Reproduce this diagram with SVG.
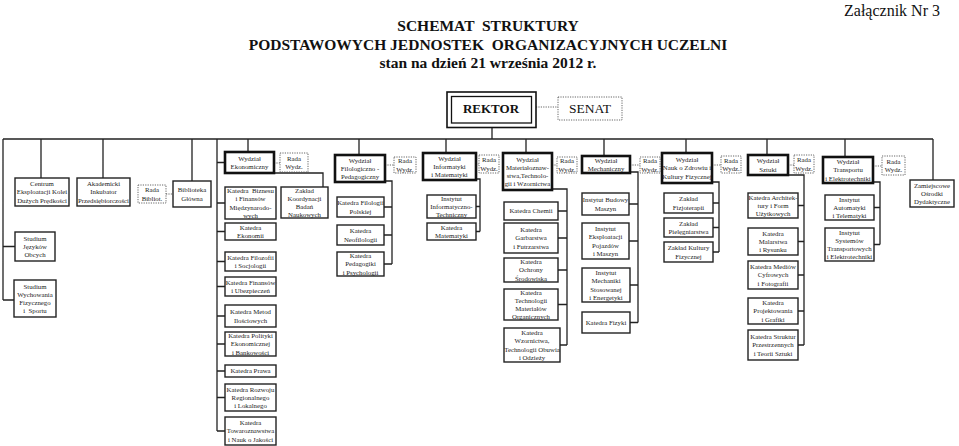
<svg xmlns="http://www.w3.org/2000/svg" width="959" height="446" viewBox="0 0 959 446">
<style>
.b{fill:#fff;stroke:#222;stroke-width:1.4}
.w{fill:#fff;stroke:#111;stroke-width:2.6}
.r{fill:#fff;stroke:#555;stroke-width:0.9;stroke-dasharray:1.2 1.2}
.t{font-family:"Liberation Serif","Times New Roman",serif;font-size:6.8px;fill:#222;text-anchor:middle}
.c{stroke:#222;stroke-width:1.3;fill:none}
.d{stroke:#555;stroke-width:0.9;stroke-dasharray:1.2 1.2;fill:none}
.h{font-family:"Liberation Serif","Times New Roman",serif;font-weight:bold;font-size:15.5px;fill:#111;text-anchor:middle}
</style>
<rect width="959" height="446" fill="#fff"/>
<g id="title">
<text class="h" x="488" y="31" xml:space="preserve">SCHEMAT  STRUKTURY</text>
<text class="h" x="488" y="50" xml:space="preserve">PODSTAWOWYCH JEDNOSTEK  ORGANIZACYJNYCH UCZELNI</text>
<text class="h" x="488" y="68">stan na dzień 21 września 2012 r.</text>
<text x="940" y="16" font-family="Liberation Serif, serif" font-size="16" fill="#111" text-anchor="end">Załącznik Nr 3</text>
</g>
<g id="connectors">
<path class="c" d="M3,139H933M492,127V139M3,139V300M3,246.5H15M3,300H14M41,139V178M103,139V178M192,139V181M217,139V431M217,162.5H225M217,203H225M217,231.5H225M217,261.5H225M217,286.5H225M217,316H225M217,344H225M217,371H225M217,397.5H225M217,431H225M248,139V152M274,173H323V187M359,139V155M385,181H392V264M384,207H392M384,235H392M384,264H392M446,139V153M476,179H480V231.5M476,206.5H480M476,231.5H480M526,139V153M552,189H567V345M558,211H567M558,238H567M558,270H567M558,304.5H567M560,345H567M604,139V156M630,172H638V322.5M629,204H638M629,241H638M630,285H638M630,322.5H638M686,139V153M712,182H719V252M713,203H719M713,227.5H719M713,252H719M767,139V155M788,175H804V345M798,205.5H804M798,241.5H804M798,275H804M798,311H804M798,345H804M845,139V157M873,182H880V244.5M874,207.5H880M874,244.5H880M933,139V180"/>
<path class="d" d="M536,107H558M166,194H173M274,163H280M385,165H394M476,164H479M552,165H557M630,165H640M712,165H721M788,165H794M873,166H882"/>
</g>
<g id="rektor"><rect x="447" y="92" width="89" height="35.5" fill="#fff" stroke="#111" stroke-width="1.6"/><rect x="451.5" y="96.5" width="80" height="26.5" fill="none" stroke="#111" stroke-width="1.3"/><text x="491" y="113" font-family="Liberation Serif, serif" font-weight="bold" font-size="13" fill="#111" text-anchor="middle">REKTOR</text></g>
<g id="senat"><rect class="r" x="558" y="97" width="64" height="23"/><text x="590" y="113" font-family="Liberation Serif, serif" font-size="13.5" fill="#111" text-anchor="middle">SENAT</text></g>
<g id="centrum"><rect class="b" x="15" y="178" width="54" height="28"/><text class="t" y="186.2"><tspan x="42">Centrum</tspan><tspan x="42" dy="8.2">Eksploatacji Kolei</tspan><tspan x="42" dy="8.2">Dużych Prędkości</tspan></text></g>
<g id="akademicki"><rect class="b" x="77" y="178" width="53" height="28"/><text class="t" y="186.2"><tspan x="103.5">Akademicki</tspan><tspan x="103.5" dy="8.2">Inkubator</tspan><tspan x="103.5" dy="8.2">Przedsiębiorczości</tspan></text></g>
<g id="rada-bibl"><rect class="r" x="138" y="185" width="28" height="18"/><text class="t" y="192.3"><tspan x="152">Rada</tspan><tspan x="152" dy="8.2">Bibliot.</tspan></text></g>
<g id="biblioteka"><rect class="b" x="173" y="181" width="38" height="26"/><text class="t" y="192.3"><tspan x="192">Biblioteka</tspan><tspan x="192" dy="8.2">Główna</tspan></text></g>
<g id="studium-jezykow"><rect class="b" x="15" y="232" width="40" height="29"/><text class="t" y="240.7"><tspan x="35">Studium</tspan><tspan x="35" dy="8.2">Języków</tspan><tspan x="35" dy="8.2">Obcych</tspan></text></g>
<g id="studium-wf"><rect class="b" x="14" y="280" width="42" height="37"/><text class="t" y="288.6" xml:space="preserve"><tspan x="35">Studium</tspan><tspan x="35" dy="8.2">Wychowania</tspan><tspan x="35" dy="8.2">Fizycznego</tspan><tspan x="35" dy="8.2">i  Sportu</tspan></text></g>
<g id="wydz-ek"><rect class="w" x="225" y="152" width="49" height="21"/><text class="t" y="160.8"><tspan x="249.5">Wydział</tspan><tspan x="249.5" dy="8.2">Ekonomiczny</tspan></text></g>
<g id="rada-ek"><rect class="r" x="280" y="153" width="28" height="19"/><text class="t" y="160.8"><tspan x="294">Rada</tspan><tspan x="294" dy="8.2">Wydz.</tspan></text></g>
<g id="zaklad-koord"><rect class="b" x="281" y="187" width="47" height="31"/><text class="t" y="192.6"><tspan x="304.5">Zakład</tspan><tspan x="304.5" dy="8.2">Koordynacji</tspan><tspan x="304.5" dy="8.2">Badań</tspan><tspan x="304.5" dy="8.2">Naukowych</tspan></text></g>
<g id="k-biznesu"><rect class="b" x="225" y="187" width="51" height="32"/><text class="t" y="193.1" xml:space="preserve"><tspan x="250.5">Katedra  Biznesu</tspan><tspan x="250.5" dy="8.2">i Finansów</tspan><tspan x="250.5" dy="8.2">Międzynarodo-</tspan><tspan x="250.5" dy="8.2">wych</tspan></text></g>
<g id="k-ekonomii"><rect class="b" x="225" y="223" width="51" height="17"/><text class="t" y="229.8"><tspan x="250.5">Katedra</tspan><tspan x="250.5" dy="8.2">Ekonomii</tspan></text></g>
<g id="k-filozofii"><rect class="b" x="225" y="252" width="51" height="19"/><text class="t" y="259.8"><tspan x="250.5">Katedra Filozofii</tspan><tspan x="250.5" dy="8.2">i Socjologii</tspan></text></g>
<g id="k-finansow"><rect class="b" x="225" y="277" width="51" height="19"/><text class="t" y="284.8"><tspan x="250.5">Katedra Finansów</tspan><tspan x="250.5" dy="8.2">i Ubezpieczeń</tspan></text></g>
<g id="k-metod"><rect class="b" x="225" y="305" width="51" height="22"/><text class="t" y="314.3"><tspan x="250.5">Katedra Metod</tspan><tspan x="250.5" dy="8.2">Ilościowych</tspan></text></g>
<g id="k-polityki"><rect class="b" x="225" y="332" width="51" height="24"/><text class="t" y="338.2"><tspan x="250.5">Katedra Polityki</tspan><tspan x="250.5" dy="8.2">Ekonomicznej</tspan><tspan x="250.5" dy="8.2">i Bankowości</tspan></text></g>
<g id="k-prawa"><rect class="b" x="225" y="365" width="51" height="12"/><text class="t" x="250.5" y="373.4">Katedra Prawa</text></g>
<g id="k-rozwoju"><rect class="b" x="225" y="384" width="51" height="27"/><text class="t" y="391.7"><tspan x="250.5">Katedra Rozwoju</tspan><tspan x="250.5" dy="8.2">Regionalnego</tspan><tspan x="250.5" dy="8.2">i Lokalnego</tspan></text></g>
<g id="k-towar"><rect class="b" x="225" y="417" width="51" height="28"/><text class="t" y="425.2"><tspan x="250.5">Katedra</tspan><tspan x="250.5" dy="8.2">Towaroznawstwa</tspan><tspan x="250.5" dy="8.2">i Nauk o Jakości</tspan></text></g>
<g id="wydz-fil"><rect class="w" x="335" y="155" width="50" height="27"/><text class="t" y="162.7"><tspan x="360">Wydział</tspan><tspan x="360" dy="8.2">Filologiczno -</tspan><tspan x="360" dy="8.2">Pedagogiczny</tspan></text></g>
<g id="rada-fil"><rect class="r" x="394" y="157" width="22" height="16"/><text class="t" y="163.3"><tspan x="405">Rada</tspan><tspan x="405" dy="8.2">Wydz.</tspan></text></g>
<g id="k-filologii"><rect class="b" x="337" y="197" width="47" height="20"/><text class="t" y="205.3"><tspan x="360.5">Katedra Filologii</tspan><tspan x="360.5" dy="8.2">Polskiej</tspan></text></g>
<g id="k-neofil"><rect class="b" x="337" y="225" width="47" height="20"/><text class="t" y="233.3"><tspan x="360.5">Katedra</tspan><tspan x="360.5" dy="8.2">Neofilologii</tspan></text></g>
<g id="k-pedag"><rect class="b" x="337" y="252" width="47" height="24"/><text class="t" y="258.2"><tspan x="360.5">Katedra</tspan><tspan x="360.5" dy="8.2">Pedagogiki</tspan><tspan x="360.5" dy="8.2">i Psychologii</tspan></text></g>
<g id="wydz-inf"><rect class="w" x="423" y="153" width="53" height="27"/><text class="t" y="160.7"><tspan x="449.5">Wydział</tspan><tspan x="449.5" dy="8.2">Informatyki</tspan><tspan x="449.5" dy="8.2">i Matematyki</tspan></text></g>
<g id="rada-inf"><rect class="r" x="479" y="155" width="20" height="18"/><text class="t" y="162.3"><tspan x="489">Rada</tspan><tspan x="489" dy="8.2">Wydz.</tspan></text></g>
<g id="inst-inf"><rect class="b" x="427" y="195" width="49" height="23"/><text class="t" y="200.7"><tspan x="451.5">Instytut</tspan><tspan x="451.5" dy="8.2">Informatyczno-</tspan><tspan x="451.5" dy="8.2">Techniczny</tspan></text></g>
<g id="k-matem"><rect class="b" x="427" y="223" width="49" height="17"/><text class="t" y="229.8"><tspan x="451.5">Katedra</tspan><tspan x="451.5" dy="8.2">Matematyki</tspan></text></g>
<g id="wydz-mat"><rect class="w" x="503" y="153" width="49" height="37"/><text class="t" y="161.6"><tspan x="527.5">Wydział</tspan><tspan x="527.5" dy="8.2">Materiałoznaw-</tspan><tspan x="527.5" dy="8.2">stwa,Technolo-</tspan><tspan x="527.5" dy="8.2">gii i Wzornictwa</tspan></text></g>
<g id="rada-mat"><rect class="r" x="557" y="157" width="20" height="16"/><text class="t" y="163.3"><tspan x="567">Rada</tspan><tspan x="567" dy="8.2">Wydz.</tspan></text></g>
<g id="k-chemii"><rect class="b" x="504" y="202" width="54" height="18"/><text class="t" x="531" y="213.4">Katedra Chemii</text></g>
<g id="k-garb"><rect class="b" x="504" y="223" width="54" height="30"/><text class="t" y="232.2"><tspan x="531">Katedra</tspan><tspan x="531" dy="8.2">Garbarstwa</tspan><tspan x="531" dy="8.2">i Futrzarstwa</tspan></text></g>
<g id="k-ochrony"><rect class="b" x="504" y="258" width="54" height="24"/><text class="t" y="264.2"><tspan x="531">Katedra</tspan><tspan x="531" dy="8.2">Ochrony</tspan><tspan x="531" dy="8.2">Środowiska</tspan></text></g>
<g id="k-techn"><rect class="b" x="504" y="289" width="54" height="31"/><text class="t" y="294.6"><tspan x="531">Katedra</tspan><tspan x="531" dy="8.2">Technologii</tspan><tspan x="531" dy="8.2">Materiałów</tspan><tspan x="531" dy="8.2">Organicznych</tspan></text></g>
<g id="k-wzorn"><rect class="b" x="504" y="328" width="56" height="34"/><text class="t" y="335.1"><tspan x="532">Katedra</tspan><tspan x="532" dy="8.2">Wzornictwa,</tspan><tspan x="532" dy="8.2">Technologii Obuwia</tspan><tspan x="532" dy="8.2">i Odzieży</tspan></text></g>
<g id="wydz-mech"><rect class="w" x="582" y="156" width="48" height="17"/><text class="t" y="162.8"><tspan x="606">Wydział</tspan><tspan x="606" dy="8.2">Mechaniczny</tspan></text></g>
<g id="rada-mech"><rect class="r" x="640" y="157" width="20" height="16"/><text class="t" y="163.3"><tspan x="650">Rada</tspan><tspan x="650" dy="8.2">Wydz.</tspan></text></g>
<g id="inst-budowy"><rect class="b" x="582" y="193" width="47" height="22"/><text class="t" y="202.3"><tspan x="605.5">Instytut Budowy</tspan><tspan x="605.5" dy="8.2">Maszyn</tspan></text></g>
<g id="inst-eksp"><rect class="b" x="582" y="223" width="47" height="36"/><text class="t" y="231.1"><tspan x="605.5">Instytut</tspan><tspan x="605.5" dy="8.2">Eksploatacji</tspan><tspan x="605.5" dy="8.2">Pojazdów</tspan><tspan x="605.5" dy="8.2">i Maszyn</tspan></text></g>
<g id="inst-mech"><rect class="b" x="582" y="268" width="48" height="34"/><text class="t" y="275.1"><tspan x="606">Instytut</tspan><tspan x="606" dy="8.2">Mechaniki</tspan><tspan x="606" dy="8.2">Stosowanej</tspan><tspan x="606" dy="8.2">i Energetyki</tspan></text></g>
<g id="k-fizyki"><rect class="b" x="582" y="312" width="48" height="21"/><text class="t" x="606" y="324.9">Katedra Fizyki</text></g>
<g id="wydz-nauk"><rect class="w" x="662" y="153" width="50" height="30"/><text class="t" y="162.2"><tspan x="687">Wydział</tspan><tspan x="687" dy="8.2">Nauk o Zdrowiu i</tspan><tspan x="687" dy="8.2">Kultury Fizycznej</tspan></text></g>
<g id="rada-nauk"><rect class="r" x="721" y="156" width="20" height="17"/><text class="t" y="162.8"><tspan x="731">Rada</tspan><tspan x="731" dy="8.2">Wydz.</tspan></text></g>
<g id="z-fizjo"><rect class="b" x="664" y="193" width="49" height="20"/><text class="t" y="201.3"><tspan x="688.5">Zakład</tspan><tspan x="688.5" dy="8.2">Fizjoterapii</tspan></text></g>
<g id="z-pieleg"><rect class="b" x="664" y="218" width="49" height="19"/><text class="t" y="225.8"><tspan x="688.5">Zakład</tspan><tspan x="688.5" dy="8.2">Pielęgniarstwa</tspan></text></g>
<g id="z-kultury"><rect class="b" x="664" y="242" width="49" height="20"/><text class="t" y="250.3"><tspan x="688.5">Zakład Kultury</tspan><tspan x="688.5" dy="8.2">Fizycznej</tspan></text></g>
<g id="wydz-sztuki"><rect class="w" x="748" y="155" width="40" height="20"/><text class="t" y="163.3"><tspan x="768">Wydział</tspan><tspan x="768" dy="8.2">Sztuki</tspan></text></g>
<g id="rada-sztuki"><rect class="r" x="794" y="155" width="20" height="18"/><text class="t" y="162.3"><tspan x="804">Rada</tspan><tspan x="804" dy="8.2">Wydz.</tspan></text></g>
<g id="k-archit"><rect class="b" x="748" y="193" width="50" height="25"/><text class="t" y="199.7"><tspan x="773">Katedra Architek-</tspan><tspan x="773" dy="8.2">tury i Form</tspan><tspan x="773" dy="8.2">Użytkowych</tspan></text></g>
<g id="k-malar"><rect class="b" x="748" y="228" width="50" height="27"/><text class="t" y="235.7"><tspan x="773">Katedra</tspan><tspan x="773" dy="8.2">Malarstwa</tspan><tspan x="773" dy="8.2">i Rysunku</tspan></text></g>
<g id="k-mediow"><rect class="b" x="748" y="261" width="50" height="28"/><text class="t" y="269.2"><tspan x="773">Katedra Mediów</tspan><tspan x="773" dy="8.2">Cyfrowych</tspan><tspan x="773" dy="8.2">i Fotografii</tspan></text></g>
<g id="k-projekt"><rect class="b" x="748" y="298" width="50" height="26"/><text class="t" y="305.2"><tspan x="773">Katedra</tspan><tspan x="773" dy="8.2">Projektowania</tspan><tspan x="773" dy="8.2">i Grafiki</tspan></text></g>
<g id="k-struktur"><rect class="b" x="748" y="330" width="50" height="30"/><text class="t" y="339.2"><tspan x="773">Katedra Struktur</tspan><tspan x="773" dy="8.2">Przestrzennych</tspan><tspan x="773" dy="8.2">i Teorii Sztuki</tspan></text></g>
<g id="wydz-transp"><rect class="w" x="823" y="157" width="50" height="26"/><text class="t" y="164.2"><tspan x="848">Wydział</tspan><tspan x="848" dy="8.2">Transportu</tspan><tspan x="848" dy="8.2">i Elektrotechniki</tspan></text></g>
<g id="rada-transp"><rect class="r" x="882" y="156" width="23" height="19"/><text class="t" y="163.8"><tspan x="893.5">Rada</tspan><tspan x="893.5" dy="8.2">Wydz.</tspan></text></g>
<g id="inst-autom"><rect class="b" x="825" y="195" width="49" height="25"/><text class="t" y="201.7"><tspan x="849.5">Instytut</tspan><tspan x="849.5" dy="8.2">Automatyki</tspan><tspan x="849.5" dy="8.2">i Telematyki</tspan></text></g>
<g id="inst-system"><rect class="b" x="825" y="228" width="49" height="33"/><text class="t" y="234.6"><tspan x="849.5">Instytut</tspan><tspan x="849.5" dy="8.2">Systemów</tspan><tspan x="849.5" dy="8.2">Transportowych</tspan><tspan x="849.5" dy="8.2">i Elektrotechniki</tspan></text></g>
<g id="zamiejscowe"><rect class="b" x="910" y="180" width="44" height="27"/><text class="t" y="187.7"><tspan x="932">Zamiejscowe</tspan><tspan x="932" dy="8.2">Ośrodki</tspan><tspan x="932" dy="8.2">Dydaktyczne</tspan></text></g>
</svg>
